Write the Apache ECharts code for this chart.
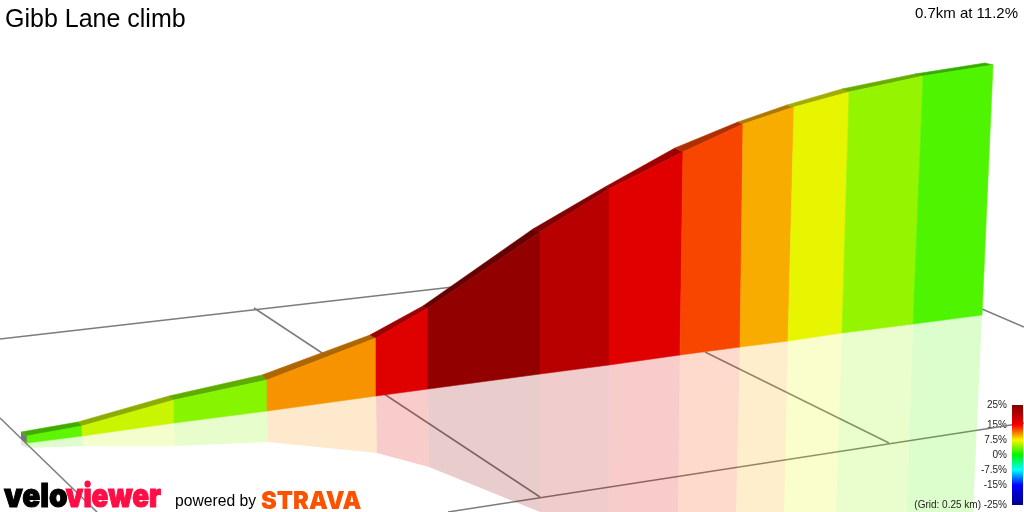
<!DOCTYPE html>
<html>
<head>
<meta charset="utf-8">
<style>html,body{margin:0;padding:0;background:#fff}#c{width:1024px;height:512px}</style>
<script src="https://cdn.jsdelivr.net/npm/echarts@6/dist/echarts.min.js"></script>
</head>
<body>
<div id="c"></div>
<script>
// gradient (%) of each climb segment
const segmentGrades = [2.8, 6.1, 4.1, 10.5, 17.1, 23.5, 20.3, 16.9, 12.9, 9.75, 7.0, 4.5, 2.4];
// projected profile stations (view units)
const wallTopX  = [27, 82, 174, 267, 376, 428, 540, 609, 683, 743, 794, 849, 923, 993];
const wallTopY  = [436, 426, 400, 380, 338, 308, 232, 189, 152, 124, 107, 92, 76, 65];
const wallBaseX = [27, 82, 174, 267, 376, 428, 540, 609, 680, 740, 788, 842, 913, 982];
const wallBaseY = [443, 436, 423, 411, 396, 389, 374, 365, 355, 347, 341, 333, 324, 315];
const roadBackX = [21, 78, 169, 262, 370, 423, 533, 605, 675, 738, 787, 842, 915, 985];
const roadBackY = [432, 422, 396, 375, 335, 306, 229, 187, 148, 122, 105, 89, 74, 63];
const shadowX   = [28, 83, 175, 268, 377, 429, 540, 608, 678, 736, 784, 836, 907, 973];
const shadowY   = [448, 446, 446, 442, 453, 467, 512, 512, 512, 512, 512, 512, 512, 512];
// ground grid lines (0.25 km)
const gridX1 = [0, 254, 0, 448, 705, 975];
const gridY1 = [339, 308, 418, 512, 352, 306];
const gridX2 = [540, 540, 97, 1024, 889, 1024];
const gridY2 = [277, 497, 512, 423, 443, 327];
// colour bar
const scaleTicks = [25, 15, 7.5, 0, -7.5, -15, -25];
const scaleStops = [[-25, '#00008b'], [-15, '#0000ff'], [-7.5, '#00ffff'], [0, '#00f500'], [7.5, '#f8f500'], [15, '#f80000'], [25, '#800000']];

function hex(c) { return [1, 3, 5].map(i => parseInt(c.substr(i, 2), 16)); }
function gradeRgb(g) {
  for (let i = 0; i < scaleStops.length - 1; i++) {
    const a = scaleStops[i], b = scaleStops[i + 1];
    if (g <= b[0]) {
      const t = (g - a[0]) / (b[0] - a[0]), ca = hex(a[1]), cb = hex(b[1]);
      return ca.map((v, k) => Math.round(v + (cb[k] - v) * t));
    }
  }
  return hex('#800000');
}
const css = (rgb, k, a) => `rgba(${rgb.map(v => Math.round(v * k)).join(',')},${a})`;

function poly(api, pts, fill, seam) {
  return {
    type: 'polygon',
    shape: { points: pts.map(p => api.coord(p)) },
    style: { fill: fill, stroke: seam ? fill : null, lineWidth: seam ? 0.6 : 0 }
  };
}
const idx = segmentGrades.map((g, i) => i);

const chart = echarts.init(document.getElementById('c'), null, { renderer: 'canvas' });
chart.setOption({
  animation: false,
  backgroundColor: '#ffffff',
  title: [
    { text: 'Gibb Lane climb', left: 5, top: 8, padding: 0, textStyle: { fontFamily: 'Liberation Sans', fontSize: 25, fontWeight: 'normal', color: '#000' } },
    { text: '0.7km at 11.2%', right: 6, top: 6, padding: 0, textStyle: { fontFamily: 'Liberation Sans', fontSize: 15, fontWeight: 'normal', color: '#000' } }
  ],
  grid: [
    { left: 0, right: 0, top: 0, bottom: 0, show: false },
    { left: 1012, width: 11, top: 405, height: 100, show: false }
  ],
  xAxis: [
    { type: 'value', gridIndex: 0, min: 0, max: 1024, show: false },
    { type: 'value', gridIndex: 1, min: 0, max: 1, show: false }
  ],
  yAxis: [
    { type: 'value', gridIndex: 0, min: 0, max: 512, inverse: true, show: false },
    {
      type: 'value', gridIndex: 1, min: -25, max: 25, position: 'left',
      axisLine: { show: false }, axisTick: { show: false }, splitLine: { show: false },
      axisLabel: {
        customValues: scaleTicks, margin: 5, fontFamily: 'Liberation Sans', fontSize: 10, color: '#222',
        formatter: v => v + '%'
      }
    }
  ],
  series: [
    {
      type: 'custom', xAxisIndex: 0, yAxisIndex: 0, coordinateSystem: 'cartesian2d', z: 1, silent: true,
      data: gridX1.map((x, i) => [x, gridY1[i], gridX2[i], gridY2[i]]),
      renderItem: (p, api) => {
        const a = api.coord([api.value(0), api.value(1)]), b = api.coord([api.value(2), api.value(3)]);
        return { type: 'line', shape: { x1: a[0], y1: a[1], x2: b[0], y2: b[1] }, style: { stroke: '#7c7c7c', lineWidth: 1.5 } };
      }
    },
    {
      type: 'custom', xAxisIndex: 0, yAxisIndex: 0, z: 2, silent: true, data: idx,
      renderItem: (p, api) => {
        const i = p.dataIndex;
        return poly(api, [[wallBaseX[i], wallBaseY[i]], [wallBaseX[i + 1], wallBaseY[i + 1]], [shadowX[i + 1], shadowY[i + 1]], [shadowX[i], shadowY[i]]],
          css(gradeRgb(segmentGrades[i]), 1, 0.2), false);
      }
    },
    {
      type: 'custom', xAxisIndex: 0, yAxisIndex: 0, z: 3, silent: true, data: [0],
      renderItem: (p, api) => ({
        type: 'group', children: [
          poly(api, [[roadBackX[0], roadBackY[0] + 7], [wallBaseX[0], wallBaseY[0]], [shadowX[0], shadowY[0]], [roadBackX[0], shadowY[0] - 3]], 'rgba(120,120,120,0.2)', false),
          poly(api, [[roadBackX[0], roadBackY[0]], [wallTopX[0], wallTopY[0]], [wallBaseX[0], wallBaseY[0]], [roadBackX[0], roadBackY[0] + 7]], '#777777', false)
        ]
      })
    },
    {
      type: 'custom', xAxisIndex: 0, yAxisIndex: 0, z: 4, silent: true, data: idx,
      renderItem: (p, api) => {
        const i = p.dataIndex;
        return poly(api, [[roadBackX[i], roadBackY[i]], [roadBackX[i + 1], roadBackY[i + 1]], [wallTopX[i + 1], wallTopY[i + 1]], [wallTopX[i], wallTopY[i]]],
          css(gradeRgb(segmentGrades[i]), 0.7, 1), true);
      }
    },
    {
      type: 'custom', xAxisIndex: 0, yAxisIndex: 0, z: 5, silent: true, data: idx,
      renderItem: (p, api) => {
        const i = p.dataIndex;
        return poly(api, [[wallTopX[i], wallTopY[i]], [wallTopX[i + 1], wallTopY[i + 1]], [wallBaseX[i + 1], wallBaseY[i + 1]], [wallBaseX[i], wallBaseY[i]]],
          css(gradeRgb(segmentGrades[i]), 1, 1), true);
      }
    },
    {
      type: 'custom', xAxisIndex: 1, yAxisIndex: 1, z: 6, silent: true, data: [0],
      renderItem: (p, api) => {
        const a = api.coord([0, 25]), b = api.coord([1, -25]);
        return {
          type: 'rect', shape: { x: a[0], y: a[1], width: b[0] - a[0], height: b[1] - a[1] },
          style: { fill: new echarts.graphic.LinearGradient(0, 1, 0, 0, scaleStops.map(s => ({ offset: (s[0] + 25) / 50, color: s[1] }))) }
        };
      }
    }
  ],
  graphic: [
    { type: 'text', x: 981, y: 505, z: 7, style: { text: '(Grid: 0.25 km)', align: 'right', verticalAlign: 'middle', font: '10px "Liberation Sans"', fill: '#222' } },
    { type: 'text', x: 4, y: 514, scaleX: 0.9, z: 7, style: { text: 'velo', align: 'left', verticalAlign: 'bottom', font: '900 33px Inter', fill: '#000', stroke: '#000', lineWidth: 1.1 } },
    { type: 'text', x: 161, y: 514, scaleX: 0.84, z: 7, style: { text: 'viewer', align: 'right', verticalAlign: 'bottom', font: '900 33px Inter', fill: '#ff0d45', stroke: '#ff0d45', lineWidth: 1.1 } },
    { type: 'text', x: 175, y: 502, scaleX: 0.98, z: 7, style: { text: 'powered by', align: 'left', verticalAlign: 'middle', font: '16px "Liberation Sans"', fill: '#000' } },
    { type: 'text', x: 261, y: 501, scaleX: 0.95, z: 7, style: { text: 'STRAVA', align: 'left', verticalAlign: 'middle', font: '900 25px Inter', fill: '#fc5200' } }
  ]
});
</script>
</body>
</html>
